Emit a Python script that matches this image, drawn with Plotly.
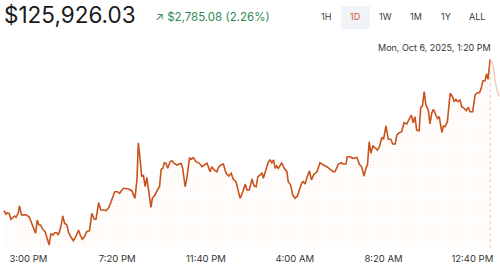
import pandas as pd
import plotly.graph_objects as go

# minutes since 2025-10-05 13:49
minutes = [0,5,10,15,20,25,31,35,41,45,51,59,66,74,82,92,97,102,107,113,120,125,132,137,143,148,154,159,165,172,
           177,184,188,195,203,211,218,223,229,235,242,250,257,264,269,277,283,291,299,307,314,324,332,338,349,364,374,383,389,393,
           398,403,408,413,418,423,430,434,442,449,455,460,465,469,474,479,486,491,498,506,513,518,523,530,535,543,548,554,562,572,
           579,586,594,598,603,608,615,623,628,635,642,650,658,665,671,679,686,691,699,706,711,718,726,732,738,743,750,755,759,767,
           774,779,784,789,794,798,803,813,820,828,832,839,845,852,859,865,872,876,881,886,894,900,906,916,925,935,945,955,964,969,
           979,987,993,1001,1005,1013,1021,1033,1040,1047,1054,1060,1064,1069,1074,1080,1086,1093,1099,1106,1111,1118,1125,1132,1138,1145,1150,1157,1164,1171,
           1179,1186,1192,1198,1203,1208,1215,1220,1225,1230,1235,1242,1247,1252,1257,1264,1269,1274,1279,1282,1286,1291,1298,1306,1313,1318,1323,1328,1335,1340,
           1347,1353,1359,1364,1372,1379,1386,1392,1397,1402,1408,1413,1417,1423]
prices = [123141,123080,123099,123086,122983,123020,123044,123020,123093,123227,123062,123067,123062,123020,122878,122726,122970,122878,122878,122799,
          122755,122652,122511,122713,122695,122737,122737,122695,122818,123044,122910,122878,122755,122663,122590,122676,122786,122695,122616,122663,
          122755,122774,123093,122983,122983,123288,123154,123154,123141,123203,123324,123490,123490,123460,123552,123539,123508,123368,123704,124389,
          124103,123765,123796,123581,123754,123490,123203,123368,123429,123521,123581,123901,123919,124022,124011,123919,124040,124059,124011,123980,
          123993,124011,123919,123581,123736,124114,124084,124114,124040,124011,123949,123980,124011,123949,123857,123949,123888,123857,123938,123980,
          123998,123827,123778,123827,123717,123673,123490,123368,123490,123631,123521,123521,123723,123594,123581,123765,123796,123838,123736,123888,
          124040,124072,124022,124072,123919,123961,123919,124022,123919,123857,123673,123613,123429,123368,123411,123534,123655,123673,123631,123736,
          123875,123704,123796,123857,124022,123980,123949,123901,123857,123857,123998,124022,123998,123998,124132,124132,124103,124121,123998,123943,
          123778,123934,123980,124408,124195,124329,124286,124255,124316,124488,124452,124696,124452,124452,124365,124365,124531,124573,124591,124756,
          124733,124819,124898,124756,124867,124622,124610,125039,125063,125326,125081,124990,124733,124929,125003,124898,124837,124867,124654,124573,
          124696,124683,124775,125296,125234,125142,125186,125142,125173,125050,125021,124977,125039,124958,124958,125265,125307,125307,125388,125528,
          125528,125651,125553,125926.03]
# after the hovered point (drawn faded)
after_minutes = [1423,1428,1433,1438,1444,1450]
after_prices = [125926.03,125876,125755,125509,125344,125234]

start = pd.Timestamp("2025-10-05 13:49")
tick_times = ["2025-10-05 15:00", "2025-10-05 19:20", "2025-10-05 23:40",
              "2025-10-06 04:00", "2025-10-06 08:20", "2025-10-06 12:40"]
tick_labels = ["3:00 PM", "7:20 PM", "11:40 PM", "4:00 AM", "8:20 AM", "12:40 PM"]
ranges = ["1H", "1D", "1W", "1M", "1Y", "ALL"]

t = [start + pd.Timedelta(minutes=m) for m in minutes]
ta = [start + pd.Timedelta(minutes=m) for m in after_minutes]

LINE = "#c9531c"
fig = go.Figure()
fig.add_trace(go.Scatter(
    x=t, y=prices, mode="lines", line=dict(color=LINE, width=1.6),
    fill="tozeroy", fillcolor="rgba(0,0,0,0)",
    fillpattern=dict(shape="+", size=3, solidity=0.2, fgcolor="#f8dcc9", bgcolor="#ffffff"),
    hoverinfo="skip"))
fig.add_trace(go.Scatter(
    x=ta, y=after_prices, mode="lines", line=dict(color="#f1cdb6", width=1.4),
    hoverinfo="skip"))

peak_t = t[-1]
fig.add_shape(type="line", xref="x", yref="paper", x0=peak_t, x1=peak_t, y0=0, y1=0.89,
              line=dict(color="#e9bfa3", width=1, dash="dot"))

W, PT, PB = 500, 40, 248
def py(p):
    return (PB - p) / (PB - PT)

fig.add_annotation(text="$125,926.03", x=0.004, y=py(15), xref="paper", yref="paper",
                   xanchor="left", yanchor="middle", showarrow=False,
                   font=dict(family="Inter", size=22.5, color="#1a1a1a"))
fig.add_annotation(text="↗ $2,785.08 (2.26%)", x=153 / W, y=py(17), xref="paper", yref="paper",
                   xanchor="left", yanchor="middle", showarrow=False,
                   font=dict(family="Inter", size=11.5, color="#2f8a57"))

btn_x = [326, 355, 385, 416, 446, 477]
fig.add_shape(type="rect", xref="paper", yref="paper", x0=341 / W, x1=370 / W,
              y0=py(29), y1=py(6), fillcolor="#f0f3f8", line=dict(width=0), layer="below")
for lab, bx in zip(ranges, btn_x):
    fig.add_annotation(text=lab, x=bx / W, y=py(17), xref="paper", yref="paper",
                       xanchor="center", yanchor="middle", showarrow=False,
                       font=dict(family="Inter", size=9,
                                 color="#d4581f" if lab == "1D" else "#3a3a3a"))

fig.add_annotation(text="Mon, Oct 6, 2025, 1:20 PM", x=493 / W, y=py(47), xref="paper", yref="paper",
                   xanchor="right", yanchor="middle", showarrow=False,
                   font=dict(family="Inter", size=9, color="#333333"))

fig.update_layout(
    width=500, height=265, margin=dict(l=0, r=0, t=PT, b=265 - PB),
    paper_bgcolor="white", plot_bgcolor="white", showlegend=False,
    xaxis=dict(range=[pd.Timestamp("2025-10-05 13:37"), pd.Timestamp("2025-10-06 14:01")],
               showgrid=False, zeroline=False, showline=False,
               tickvals=[pd.Timestamp(v) for v in tick_times], ticktext=tick_labels,
               tickfont=dict(family="Inter", size=9.5, color="#333333"), ticks="",
               ticklabelstandoff=3),
    yaxis=dict(range=[122456, 126275], visible=False, showgrid=False, zeroline=False),
)
fig.write_html("out.html")
